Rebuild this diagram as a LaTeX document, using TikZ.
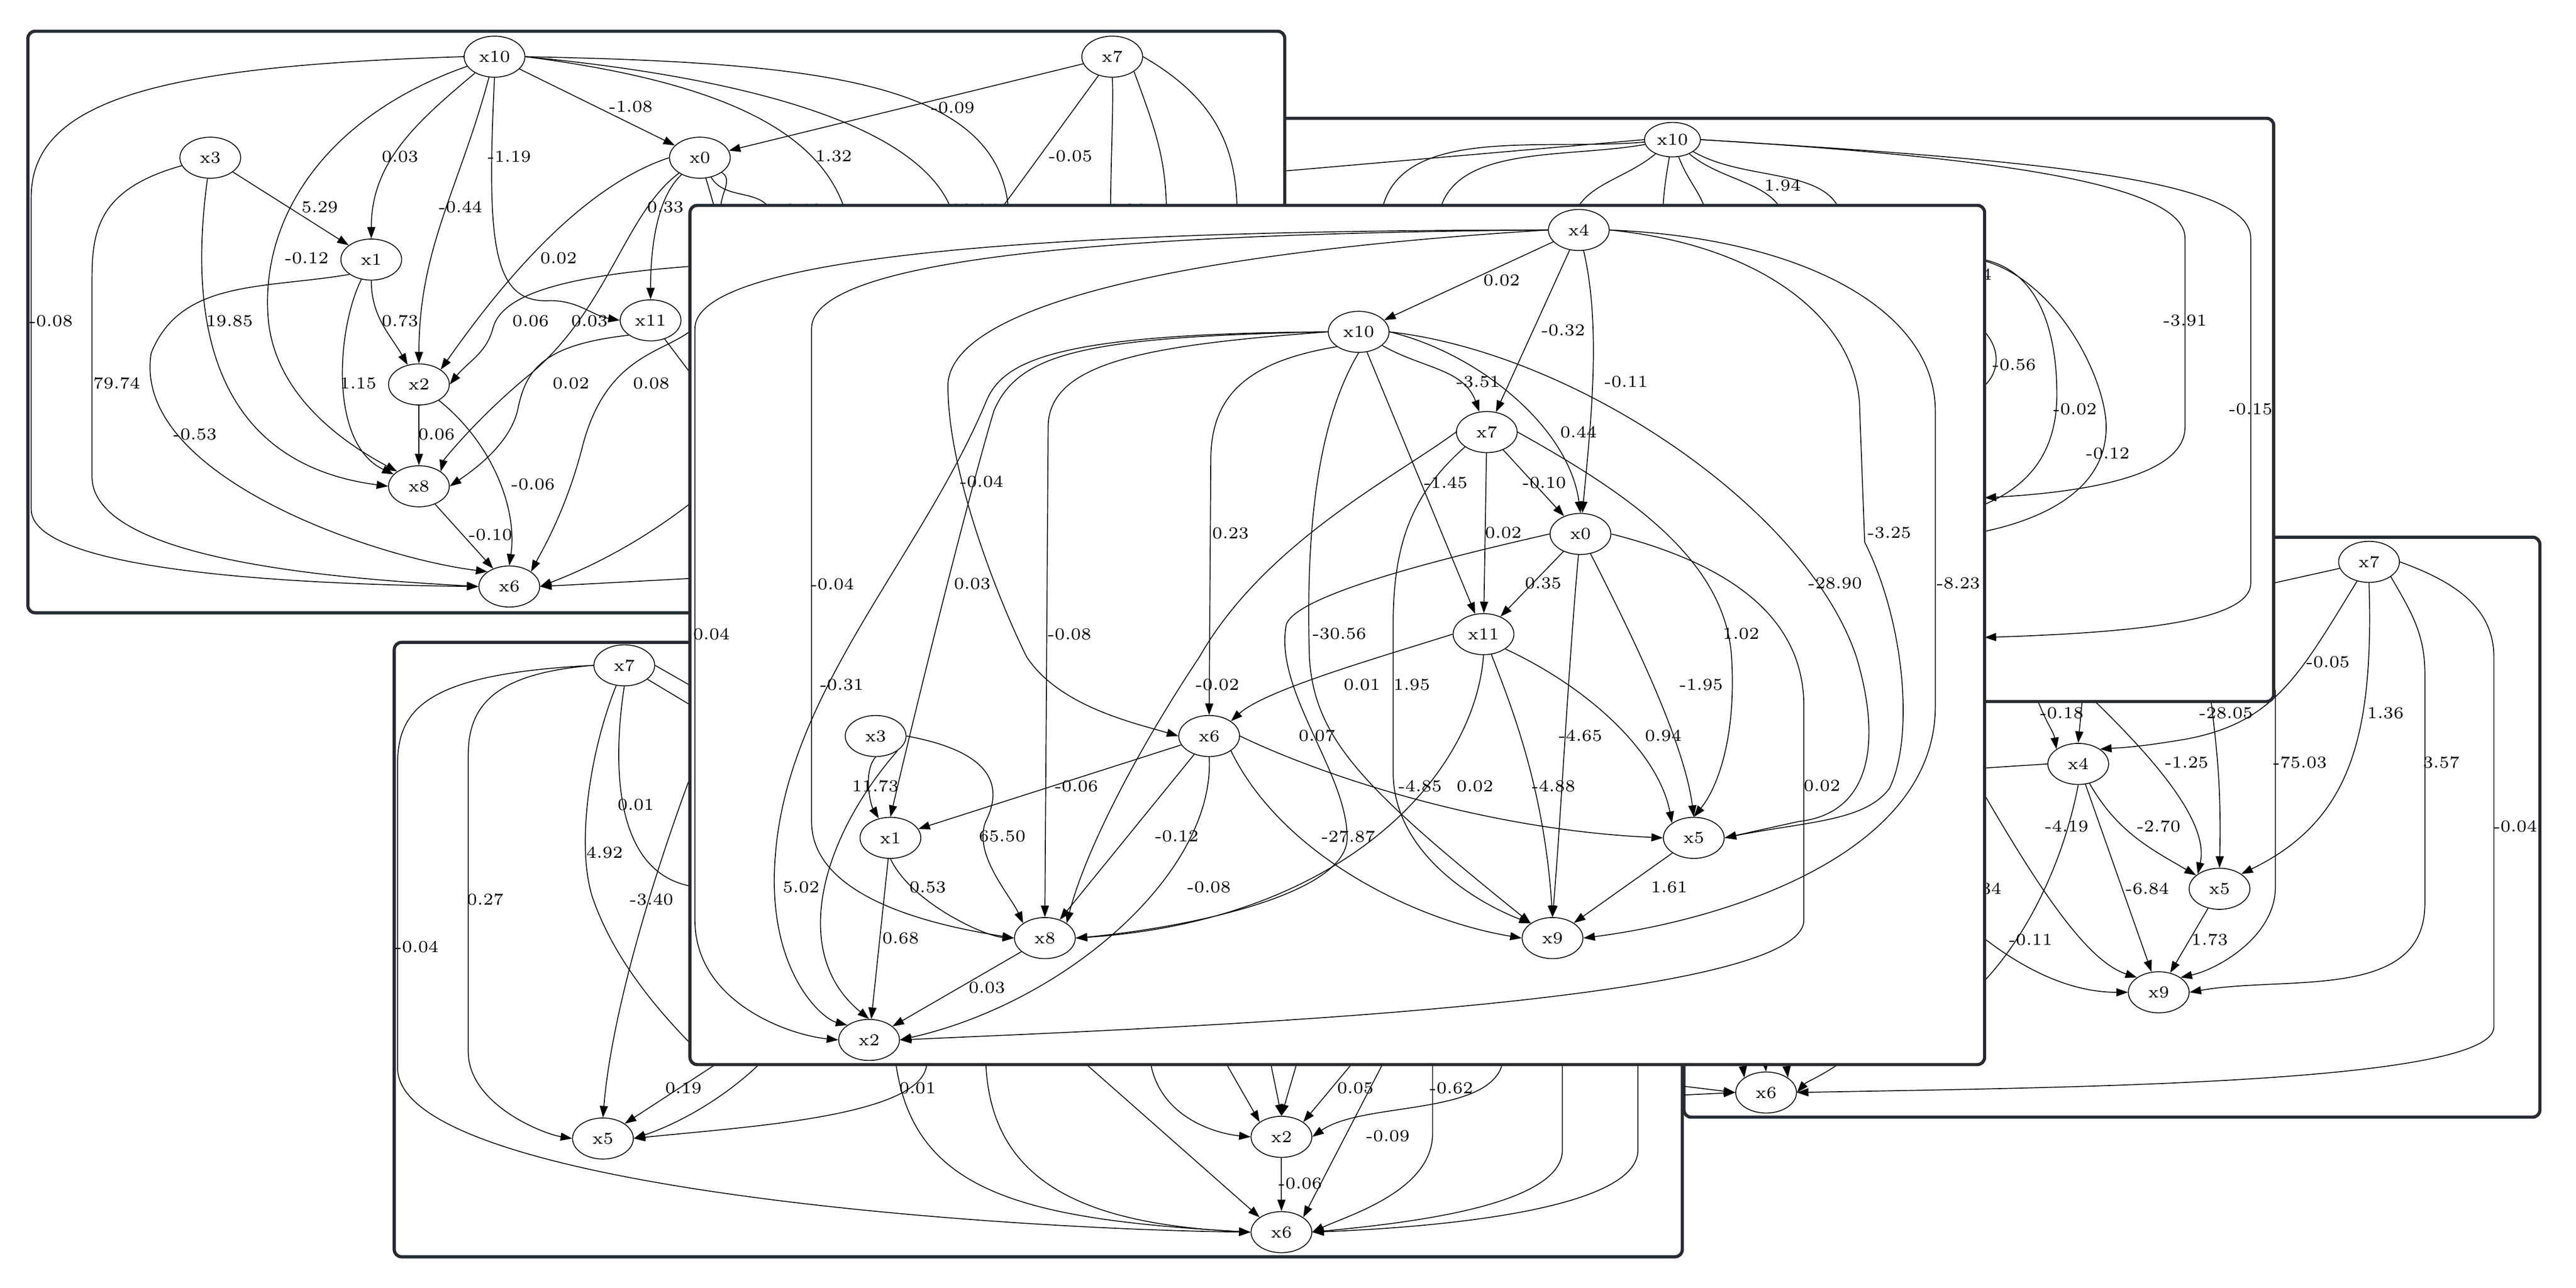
\documentclass[tikz,border=0pt]{standalone}
\usetikzlibrary{arrows.meta,shapes.geometric}
\newcounter{lbc}
\def\lb(#1,#2)#3{\stepcounter{lbc}\node[lbl] (lab\arabic{lbc}) at (#1,#2) {#3};}
\definecolor{frame}{HTML}{262A31}
\begin{document}
\begin{tikzpicture}[x=0.02cm,y=-0.02cm,
  nd/.style={ellipse,draw,line width=0.3pt,fill=white,minimum width=0.74cm,minimum height=0.5cm,inner sep=0pt,font=\fontsize{5.8}{6}\selectfont},
  sn/.style={nd,minimum width=0.68cm,minimum height=0.42cm},
  lbl/.style={inner sep=0.5pt,font=\fontsize{5.8}{6}\selectfont},
  e/.style={line width=0.3pt,-{Triangle[length=4pt,width=2.8pt]}},
  l/.style={line width=0.3pt},
  box/.style={draw=frame,fill=white,line width=1.1pt,rounded corners=2.5pt}]
\useasboundingbox (0,0) rectangle (1568,784);

% ---------------- Panel D
\draw[box] (1025,327) rectangle (1546,680);
\node[nd] (d7) at (1442,342) {x7};
\node[nd] (d4) at (1265,465) {x4};
\node[nd] (d5) at (1351,541) {x5};
\node[nd] (d9) at (1314,604) {x9};
\node[nd] (d6) at (1075,665) {x6};
\coordinate (dB) at (1370,358);
\draw[l] (d7) -- (dB);
\draw[e] (d7) .. controls (1400,410) and (1385,440) .. (1330,450) .. controls (1300,455) and (1292,455) .. (d4.north east);
\draw[e] (d7.south) .. controls (1445,450) and (1430,500) .. (d5.north east);
\draw[e] (d7.south east) to[out=-60,in=90] (1476,410) -- (1476,550) to[out=-90,in=10] (d9.east);
\draw[e] (d7.east) to[out=-20,in=90] (1518,400) -- (1518,625) .. controls (1518,660) and (1250,662) .. (d6.east);
\draw[e] (d4) to[out=-60,in=150] (d5);
\draw[e] (d4) -- (d9);
\coordinate (dE1) at (1200,468);
\draw[l] (d4.west) -- (dE1);
\coordinate (dE2) at (1205,600);
\draw[l] (d4.south) .. controls (1255,530) and (1230,575) .. (dE2);
\coordinate (dT1) at (1238,420); \coordinate (dT2) at (1268,420);
\coordinate (dT3) at (1345,420); \coordinate (dT4) at (1385,420);
\draw[e] (dT1) .. controls (1245,440) and (1250,445) .. (d4.north west);
\draw[e] (dT2) -- (d4.north);
\draw[e] (dT2) .. controls (1310,460) and (1345,500) .. (d5.north west);
\draw[e] (dT3) .. controls (1350,460) and (1352,480) .. (d5.north);
\draw[e] (dT4) -- (1385,540) .. controls (1385,570) and (1350,590) .. (d9.north east);
\coordinate (dE3) at (1200,470);
\draw[e] (dE3) .. controls (1240,540) and (1270,585) .. (d9.north west);
\coordinate (dE4) at (1200,565);
\draw[e] (dE4) .. controls (1230,590) and (1260,604) .. (d9.west);
\draw[e] (d5) -- (d9);
\coordinate (dC1) at (1058,625); \coordinate (dC2) at (1072,625); \coordinate (dC3) at (1085,625);
\coordinate (dC4) at (1130,640); \coordinate (dC5) at (1015,660); \coordinate (dC6) at (1015,667);
\draw[e] (dC1) -- (d6.north west); \draw[e] (dC2) -- (d6.north); \draw[e] (dC3) -- (d6.north east);
\draw[e] (dC4) .. controls (1110,655) and (1100,658) .. (d6.east);
\draw[e] (dC5) -- (d6.west); \draw[e] (dC6) -- (d6.west);
\lb(1417,403){-0.05} \lb(1255,434){-0.18} \lb(1355,434){-28.05} \lb(1452,434){1.36}
\lb(1331,464){-1.25} \lb(1400,464){-75.03} \lb(1486,464){3.57}
\lb(1258,503){-4.19} \lb(1314,503){-2.70} \lb(1531,503){-0.04}
\lb(1205,541){-0.34} \lb(1307,541){-6.84} \lb(1236,572){-0.11} \lb(1345,572){1.73}

% ---------------- Panel B
\draw[box] (700,72) rectangle (1384,427);
\node[sn] (b10) at (1018,85) {x10};
\coordinate (bL) at (760,106);
\draw[l] (b10.west) -- (bL);
\foreach \xx/\oo in {840/185,875/190,957/220,1012/260,1040/290,1087/320,1122/330}{
  \draw[l] (b10) to[out=\oo,in=90] (\xx,140);}
\coordinate (bE1) at (1208,303);
\draw[e] (b10.east) .. controls (1200,95) and (1330,110) .. (1330,145) -- (1330,260) .. controls (1330,292) and (1260,300) .. (bE1);
\coordinate (bE2) at (1208,388);
\draw[e] (b10.east) .. controls (1250,98) and (1370,110) .. (1370,145) -- (1370,355) .. controls (1370,378) and (1300,385) .. (bE2);
\coordinate (bE3) at (1200,157); \coordinate (bE4) at (1200,310);
\draw[l] (bE3) .. controls (1240,160) and (1252,200) .. (1252,240) .. controls (1252,280) and (1230,300) .. (bE4);
\coordinate (bE5) at (1200,325);
\draw[l] (bE3) .. controls (1250,165) and (1282,230) .. (1282,260) .. controls (1282,300) and (1240,318) .. (bE5);
\coordinate (bE6) at (1200,195); \coordinate (bE7) at (1200,240);
\draw[l] (bE6) .. controls (1222,210) and (1218,232) .. (bE7);
\lb(1085,113){1.94} \lb(1199,167){-1.94} \lb(1226,222){-0.56} \lb(1330,195){-3.91}
\lb(1263,249){-0.02} \lb(1370,249){-0.15} \lb(1283,276){-0.12}

% ---------------- Panel A
\draw[box] (17,19) rectangle (782,373);
\node[nd] (a10) at (301,34.5) {x10};
\node[nd] (a3) at (128,96) {x3};
\node[nd] (a1) at (226,158) {x1};
\node[nd] (a2) at (255,234) {x2};
\node[nd] (a8) at (255,296) {x8};
\node[nd] (a6) at (310,357) {x6};
\node[nd] (a11) at (396,195) {x11};
\node[nd] (a0) at (426,96) {x0};
\node[nd] (a7) at (677,34.5) {x7};
\draw[e] (a10) -- (a0);
\draw[e] (a10) to[out=-140,in=90] (a1);
\draw[e] (a10) to[out=-105,in=90] (a2);
\draw[e] (a10.south) .. controls (296,150) and (300,185) .. (335,183) to[out=0,in=170] (a11.west);
\draw[e] (a10) .. controls (200,70) and (160,130) .. (163,190) .. controls (165,240) and (210,270) .. (a8.north west);
\draw[e] (a10.west) .. controls (100,40) and (19,60) .. (19,120) -- (19,310) .. controls (19,350) and (200,356) .. (a6.west);
\coordinate (aR1) at (614,130); \coordinate (aR2) at (515,130); \coordinate (aR3) at (580,130);
\draw[l] (a10.east) .. controls (500,38) and (610,50) .. (aR1);
\draw[l] (a10.east) .. controls (440,50) and (500,80) .. (aR2);
\draw[l] (a10.east) .. controls (430,45) and (560,70) .. (aR3);
\draw[e] (a3) -- (a1);
\draw[e] (a3) .. controls (118,170) and (115,280) .. (a8.west);
\draw[e] (a3) .. controls (60,115) and (56,140) .. (56,170) -- (56,290) .. controls (56,340) and (200,352) .. (a6.west);
\draw[e] (a1) to[out=-90,in=120] (a2);
\draw[e] (a1) .. controls (205,200) and (200,270) .. (a8);
\draw[e] (a1.south west) .. controls (160,176) and (110,170) .. (92,215) .. controls (80,290) and (230,340) .. (a6.north west);
\draw[e] (a0.west) .. controls (350,115) and (300,180) .. (a2.north east);
\draw[e] (a0) .. controls (380,130) and (370,190) .. (320,230) .. controls (290,255) and (270,280) .. (a8.north east);
\draw[e] (a0) .. controls (400,120) and (396,150) .. (a11);
\coordinate (aD1) at (436,130); \coordinate (aD2) at (470,130); \coordinate (aD3) at (440,130);
\draw[l] (a0) -- (aD1); \draw[l] (a0) to[out=-60,in=110] (aD2); \draw[l] (a0.south east) to[out=-30,in=120] (aD3);
\coordinate (aE1) at (422,162);
\draw[e] (aE1) .. controls (340,168) and (305,180) .. (300,200) .. controls (296,215) and (285,220) .. (a2.east);
\draw[e] (a11.south west) .. controls (330,210) and (320,225) .. (315,250) .. controls (310,270) and (290,285) .. (a8.east);
\coordinate (aE2) at (430,240);
\draw[l] (a11) -- (aE2);
\coordinate (aE3) at (422,200);
\draw[e] (aE3) .. controls (405,215) and (370,215) .. (355,270) .. controls (345,310) and (330,335) .. (a6.north east);
\coordinate (aE4) at (422,305);
\draw[e] (aE4) .. controls (390,330) and (360,345) .. (a6.east);
\coordinate (aE5) at (422,352);
\draw[e] (aE5) -- (a6.east);
\draw[e] (a2) .. controls (300,270) and (315,310) .. (a6.north);
\draw[e] (a2) -- (a8);
\draw[e] (a8) -- (a6);
\draw[e] (a7) -- (a0);
\coordinate (aS1) at (600,140); \coordinate (aS2) at (676,130); \coordinate (aS3) at (710,130); \coordinate (aS4) at (753,130);
\draw[l] (a7) -- (aS1);
\draw[l] (a7.south) .. controls (678,60) and (676,100) .. (aS2);
\draw[l] (a7.south east) to[out=-70,in=90] (aS3);
\draw[l] (a7.east) .. controls (740,60) and (753,90) .. (aS4);
\lb(384,65){-1.08} \lb(243.5,95.5){0.03} \lb(310,95.5){-1.19} \lb(194.6,126){5.29}
\lb(280.3,126){-0.44} \lb(405,126){0.33} \lb(186.7,157){-0.12} \lb(340,157){0.02}
\lb(31,195.4){-0.08} \lb(139.7,195.4){19.85} \lb(243.5,195.4){0.73} \lb(323,195.4){0.06}
\lb(358.8,195.4){0.03} \lb(71,233.4){79.74} \lb(218,233.4){1.15} \lb(347.5,233.4){0.02}
\lb(396.4,233.4){0.08} \lb(118.7,264.3){-0.53} \lb(265.7,264.3){0.06} \lb(324.5,294.8){-0.06}
\lb(298.6,325.5){-0.10} \lb(580,65.5){-0.09} \lb(507.4,95){1.32} \lb(651.6,95){-0.05}
\lb(489,127.5){0.18} \lb(591,127.5){-28.05} \lb(686,127.5){1.36}

% ---------------- Panel C
\draw[box] (240,391) rectangle (1024,765);
\node[nd] (c7) at (380,405) {x7};
\node[nd] (c5) at (367,693) {x5};
\node[nd] (c2) at (780,692) {x2};
\node[nd] (c6) at (780,750) {x6};
\draw[e] (c7.west) .. controls (300,410) and (285,430) .. (285,460) -- (285,640) .. controls (285,672) and (330,690) .. (c5.west);
\draw[e] (c7.west) .. controls (262,410) and (242,430) .. (242,465) -- (242,650) .. controls (242,722) and (600,748) .. (c6.west);
\coordinate (cE1) at (425,640);
\draw[l] (c7) .. controls (358,460) and (350,520) .. (362,550) .. controls (375,585) and (400,615) .. (cE1);
\coordinate (cE2) at (425,540);
\draw[l] (c7.south) .. controls (372,470) and (375,535) .. (cE2);
\coordinate (cE3) at (425,420); \coordinate (cE4) at (425,432);
\draw[l] (c7.east) -- (cE3); \draw[l] (c7) -- (cE4);
\coordinate (cE5) at (422,468);
\draw[e] (cE5) .. controls (395,540) and (372,620) .. (c5.north);
\coordinate (cE6) at (440,645); \coordinate (cE7) at (465,645); \coordinate (cE8) at (564,645);
\draw[e] (cE6) -- (c5.north east);
\draw[e] (cE7) .. controls (440,670) and (410,685) .. (c5.east);
\draw[e] (cE8) .. controls (568,680) and (450,686) .. (c5.east);
\coordinate (cF1) at (745,645); \coordinate (cF2) at (773,645); \coordinate (cF3) at (790,645);
\coordinate (cF4) at (700,645); \coordinate (cF5) at (825,645); \coordinate (cF6) at (915,645);
\draw[e] (cF1) -- (c2.north west); \draw[e] (cF2) -- (c2.north); \draw[e] (cF3) -- (c2.north);
\draw[e] (cF4) .. controls (705,680) and (740,690) .. (c2.west);
\draw[e] (cF5) -- (c2.north east);
\draw[e] (cF6) .. controls (910,680) and (830,670) .. (c2.east);
\coordinate (cG1) at (545,645); \coordinate (cG2) at (600,645); \coordinate (cG3) at (658,645);
\coordinate (cG4) at (843,645); \coordinate (cG5) at (872,645); \coordinate (cG6) at (951,645); \coordinate (cG7) at (997,645);
\draw[e] (cG1) .. controls (555,725) and (620,742) .. (c6.west);
\draw[e] (cG2) .. controls (602,720) and (660,745) .. (c6.west);
\draw[e] (cG3) -- (c6.north west);
\draw[e] (cG4) -- (c6.north east);
\draw[e] (cG5) -- (872,690) .. controls (872,725) and (820,740) .. (c6.east);
\draw[e] (cG6) -- (951,700) .. controls (951,735) and (850,745) .. (c6.east);
\draw[e] (cG7) -- (997,700) .. controls (997,740) and (850,748) .. (c6.east);
\draw[e] (c2) -- (c6);
\lb(387,490){0.01} \lb(368,519){4.92} \lb(295.4,547.5){0.27} \lb(396.6,547.5){-3.40}
\lb(253.7,576.5){-0.04} \lb(416,662.4){0.19} \lb(558.5,662.4){0.01} \lb(825,662.4){0.05}
\lb(883.4,662.4){-0.62} \lb(844.8,691.4){-0.09} \lb(791.4,720.4){-0.06}

% ---------------- Panel E
\draw[box] (420,125) rectangle (1208,648);
\node[nd] (e4) at (961,140) {x4};
\node[nd] (e10) at (827,202) {x10};
\node[nd] (e7) at (905,263) {x7};
\node[nd] (e0) at (962,325) {x0};
\node[nd] (e11) at (903,386) {x11};
\node[nd] (e3) at (533,448) {x3};
\node[nd] (e6) at (736,448) {x6};
\node[nd] (e1) at (542,510) {x1};
\node[nd] (e5) at (1031,510) {x5};
\node[nd] (e8) at (636,571) {x8};
\node[nd] (e9) at (945,571) {x9};
\node[nd] (e2) at (529,633) {x2};
\draw[e] (e4) -- (e10);
\draw[e] (e4) -- (e7);
\draw[e] (e4) .. controls (975,200) and (968,260) .. (e0);
\draw[e] (e4.west) .. controls (700,140) and (423,150) .. (423,200) -- (423,560) .. controls (423,610) and (480,630) .. (e2.west);
\draw[e] (e4.west) .. controls (700,142) and (494,155) .. (494,200) -- (494,500) .. controls (494,550) and (580,565) .. (e8.west);
\draw[e] (e4.west) .. controls (700,155) and (577,190) .. (577,235) .. controls (577,290) and (610,370) .. (625,400) .. controls (645,430) and (690,440) .. (e6.west);
\draw[e] (e4.east) .. controls (1080,150) and (1132,200) .. (1132,250) -- (1135,330) .. controls (1160,380) and (1165,450) .. (1150,480) .. controls (1135,500) and (1100,500) .. (e5.east);
\draw[e] (e4.east) .. controls (1100,145) and (1178,190) .. (1178,250) -- (1178,430) .. controls (1178,520) and (1050,560) .. (e9.east);
\draw[e] (e10.west) .. controls (660,205) and (620,215) .. (605,250) .. controls (590,300) and (560,420) .. (e1.north);
\draw[e] (e10.west) .. controls (640,203) and (610,220) .. (600,245) .. controls (560,340) and (480,420) .. (472,520) .. controls (466,590) and (500,620) .. (e2.north west);
\draw[e] (e10.west) .. controls (700,210) and (638,220) .. (638,260) -- (e8.north);
\draw[e] (e10.south west) .. controls (760,220) and (737,240) .. (737,280) -- (e6.north);
\draw[e] (e10.south) .. controls (800,260) and (795,330) .. (797,400) .. controls (800,450) and (830,480) .. (e9.north west);
\draw[e] (e10) -- (e11);
\draw[e] (e10) to[out=-30,in=110] (e7);
\draw[e] (e10.east) .. controls (900,215) and (955,260) .. (e0.north);
\draw[e] (e10.east) .. controls (960,215) and (1100,310) .. (1130,400) .. controls (1145,450) and (1140,495) .. (1095,500) -- (e5.east);
\draw[e] (e7) -- (e0);
\draw[e] (e7) -- (e11);
\draw[e] (e7.east) .. controls (990,300) and (1050,340) .. (1054,400) .. controls (1057,450) and (1045,480) .. (e5.north);
\draw[e] (e7.south west) .. controls (860,300) and (848,330) .. (848,380) -- (848,470) .. controls (848,520) and (900,550) .. (e9.north west);
\draw[e] (e7.west) .. controls (850,290) and (770,330) .. (730,400) .. controls (690,460) and (660,520) .. (e8.north east);
\draw[e] (e0) -- (e11);
\draw[e] (e0) .. controls (955,400) and (950,500) .. (e9.north);
\draw[e] (e0) .. controls (990,380) and (1025,450) .. (e5.north);
\draw[e] (e0.west) .. controls (900,335) and (790,360) .. (783,380) .. controls (775,420) and (820,470) .. (820,510) .. controls (820,545) and (720,565) .. (e8.east);
\draw[e] (e0.east) .. controls (1060,345) and (1098,380) .. (1098,430) -- (1098,560) .. controls (1098,612) and (700,626) .. (e2.east);
\draw[e] (e11.west) .. controls (840,400) and (770,420) .. (e6.north east);
\draw[e] (e11.south) .. controls (898,470) and (820,560) .. (e8.east);
\draw[e] (e11) .. controls (920,430) and (940,480) .. (e9.north);
\draw[e] (e11.south east) .. controls (970,420) and (1010,460) .. (e5.north west);
\draw[e] (e6) -- (e1);
\draw[e] (e6) -- (e8);
\draw[e] (e6.south) .. controls (740,530) and (650,610) .. (e2.east);
\draw[e] (e6.east) .. controls (800,470) and (900,505) .. (e5.west);
\draw[e] (e6.south east) .. controls (780,520) and (860,560) .. (e9.west);
\draw[e] (e3.south) .. controls (525,470) and (530,490) .. (e1);
\draw[e] (e3.south east) .. controls (500,510) and (480,580) .. (e2.north);
\draw[e] (e3.east) .. controls (590,455) and (615,470) .. (600,500) .. controls (592,520) and (615,545) .. (e8.north west);
\draw[e] (e1.south) .. controls (555,550) and (600,570) .. (e8.west);
\draw[e] (e1) -- (e2);
\draw[e] (e8) -- (e2);
\draw[e] (e5) -- (e9);
\lb(914,170.6){0.02} \lb(951.5,201){-0.32} \lb(899.7,232.3){-3.51} \lb(989.8,232.3){-0.11}
\lb(960.8,263.2){0.44} \lb(880,293.7){-1.45} \lb(940,293.7){-0.10} \lb(915,324.2){0.02}
\lb(1150,324.2){-3.25} \lb(939.3,355.1){0.35} \lb(1117,355.1){-28.90} \lb(1192,355.1){-8.23}
\lb(815.3,385.8){-30.56} \lb(1059.7,385.8){1.02} \lb(829,416.8){0.01} \lb(859.3,416.8){1.95}
\lb(1035.5,416.8){-1.95} \lb(433,386){0.04} \lb(506.6,355.6){-0.04} \lb(591.8,355.2){0.03}
\lb(651,386){-0.08} \lb(749,324.5){0.23} \lb(597.5,293.3){-0.04} \lb(512.4,416.7){-0.31}
\lb(741,416.9){-0.02} \lb(801.6,447.7){0.07} \lb(962,447.7){-4.65} \lb(1012.4,447.7){0.94}
\lb(532.8,478.5){11.73} \lb(655.2,478.5){-0.06} \lb(864.4,478.5){-4.85} \lb(897.8,478.5){0.02}
\lb(945.6,478.5){-4.88} \lb(610,509.1){65.50} \lb(716.3,509.1){-0.12} \lb(820.7,509.1){-27.87}
\lb(487.6,539.9){5.02} \lb(564.7,539.9){0.53} \lb(735.9,539.9){-0.08} \lb(1016,539.9){1.61}
\lb(548.2,571){0.68} \lb(600.7,601.2){0.03} \lb(1109,478.2){0.02}
\end{tikzpicture}
\end{document}
